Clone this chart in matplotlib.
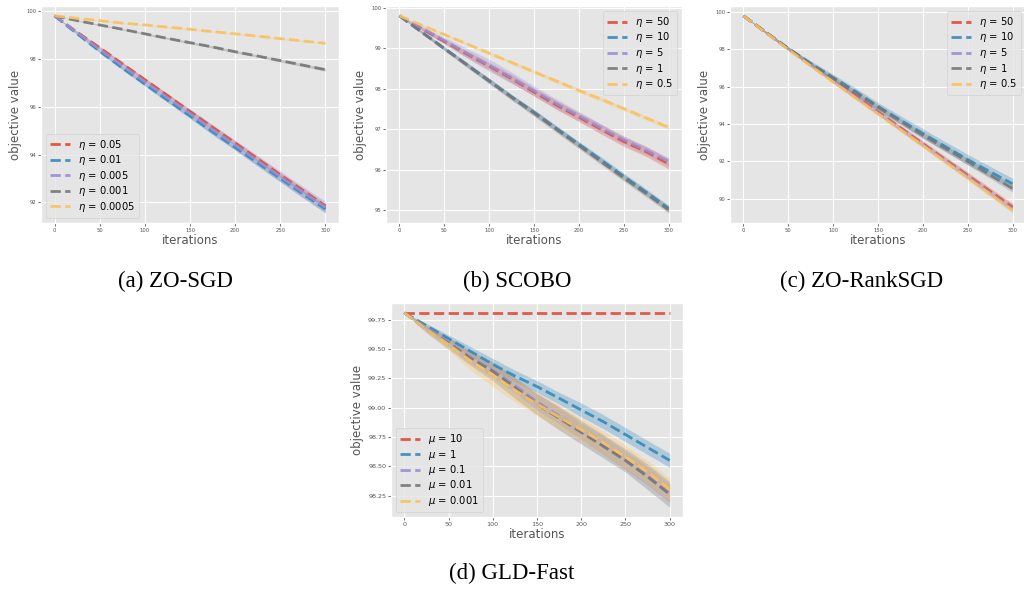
import numpy as np
import matplotlib.pyplot as plt

plt.style.use('ggplot')

iters = np.arange(0, 301, 25)
colors = ['#E24A33', '#348ABD', '#988ED5', '#777777', '#FBC15E']

# (a) ZO-SGD
sgd_labels = [r'$\eta$ = 0.05', r'$\eta$ = 0.01', r'$\eta$ = 0.005', r'$\eta$ = 0.001', r'$\eta$ = 0.0005']
sgd_means = [
    [99.8, 99.12, 98.47, 97.8, 97.13, 96.47, 95.8, 95.14, 94.48, 93.82, 93.15, 92.5, 91.85],
    [99.8, 99.05, 98.32, 97.62, 96.95, 96.28, 95.62, 94.95, 94.3, 93.65, 93.0, 92.35, 91.72],
    [99.8, 99.1, 98.4, 97.72, 97.05, 96.38, 95.72, 95.05, 94.4, 93.74, 93.08, 92.43, 91.8],
    [99.8, 99.6, 99.42, 99.24, 99.05, 98.86, 98.68, 98.5, 98.3, 98.12, 97.93, 97.74, 97.55],
    [99.8, 99.7, 99.6, 99.5, 99.42, 99.33, 99.24, 99.14, 99.05, 98.95, 98.85, 98.75, 98.65],
]
sgd_bands = [
    [0, 0.03, 0.05, 0.06, 0.07, 0.08, 0.08, 0.09, 0.09, 0.1, 0.1, 0.1, 0.1],
    [0, 0.04, 0.06, 0.08, 0.09, 0.1, 0.11, 0.12, 0.12, 0.13, 0.14, 0.15, 0.15],
    [0, 0.06, 0.1, 0.13, 0.15, 0.17, 0.19, 0.2, 0.21, 0.22, 0.23, 0.24, 0.25],
    [0, 0.02, 0.03, 0.03, 0.04, 0.04, 0.05, 0.05, 0.05, 0.05, 0.06, 0.06, 0.06],
    [0, 0.01, 0.02, 0.02, 0.02, 0.03, 0.03, 0.03, 0.03, 0.03, 0.03, 0.03, 0.03],
]

# (b) SCOBO
scobo_labels = [r'$\eta$ = 50', r'$\eta$ = 10', r'$\eta$ = 5', r'$\eta$ = 1', r'$\eta$ = 0.5']
scobo_means = [
    [99.8, 99.48, 99.17, 98.86, 98.56, 98.25, 97.92, 97.6, 97.3, 97.0, 96.7, 96.45, 96.15],
    [99.8, 99.4, 99.0, 98.6, 98.2, 97.8, 97.42, 97.02, 96.63, 96.24, 95.84, 95.45, 95.05],
    [99.8, 99.5, 99.19, 98.88, 98.58, 98.27, 97.95, 97.63, 97.33, 97.03, 96.74, 96.48, 96.2],
    [99.8, 99.39, 98.99, 98.59, 98.19, 97.79, 97.4, 97.0, 96.6, 96.2, 95.8, 95.41, 95.01],
    [99.8, 99.57, 99.34, 99.11, 98.88, 98.65, 98.42, 98.19, 97.96, 97.74, 97.51, 97.28, 97.05],
]
scobo_bands = [
    [0, 0.04, 0.06, 0.08, 0.09, 0.1, 0.1, 0.11, 0.11, 0.12, 0.12, 0.12, 0.13],
    [0, 0.03, 0.04, 0.05, 0.06, 0.06, 0.07, 0.07, 0.07, 0.08, 0.08, 0.08, 0.08],
    [0, 0.05, 0.08, 0.12, 0.15, 0.14, 0.12, 0.12, 0.11, 0.1, 0.1, 0.1, 0.1],
    [0, 0.03, 0.05, 0.06, 0.07, 0.07, 0.08, 0.08, 0.08, 0.08, 0.08, 0.08, 0.08],
    [0, 0.02, 0.03, 0.03, 0.04, 0.04, 0.04, 0.05, 0.05, 0.05, 0.05, 0.05, 0.05],
]

# (c) ZO-RankSGD
rank_labels = [r'$\eta$ = 50', r'$\eta$ = 10', r'$\eta$ = 5', r'$\eta$ = 1', r'$\eta$ = 0.5']
rank_means = [
    [99.8, 98.92, 98.05, 97.2, 96.35, 95.5, 94.65, 93.8, 92.95, 92.1, 91.25, 90.4, 89.55],
    [99.8, 98.92, 98.05, 97.25, 96.5, 95.75, 94.95, 94.22, 93.5, 92.8, 92.1, 91.45, 90.8],
    [99.8, 98.9, 98.02, 97.15, 96.3, 95.45, 94.6, 93.75, 92.9, 92.05, 91.2, 90.32, 89.45],
    [99.8, 98.92, 98.04, 97.22, 96.45, 95.68, 94.9, 94.15, 93.4, 92.7, 92.0, 91.28, 90.55],
    [99.8, 98.9, 98.0, 97.12, 96.26, 95.4, 94.55, 93.7, 92.85, 91.98, 91.12, 90.25, 89.38],
]
rank_bands = [
    [0, 0.05, 0.08, 0.1, 0.12, 0.13, 0.14, 0.15, 0.16, 0.17, 0.18, 0.19, 0.2],
    [0, 0.06, 0.1, 0.14, 0.17, 0.19, 0.21, 0.23, 0.25, 0.26, 0.28, 0.29, 0.3],
    [0, 0.05, 0.07, 0.09, 0.1, 0.11, 0.12, 0.13, 0.14, 0.14, 0.15, 0.15, 0.16],
    [0, 0.05, 0.08, 0.1, 0.12, 0.13, 0.14, 0.15, 0.16, 0.17, 0.18, 0.19, 0.2],
    [0, 0.04, 0.06, 0.08, 0.09, 0.1, 0.11, 0.12, 0.13, 0.13, 0.14, 0.15, 0.15],
]

# (d) GLD-Fast
gld_labels = [r'$\mu$ = 10', r'$\mu$ = 1', r'$\mu$ = 0.1', r'$\mu$ = 0.01', r'$\mu$ = 0.001']
gld_means = [
    [99.81] * 13,
    [99.81, 99.7, 99.59, 99.48, 99.37, 99.27, 99.18, 99.08, 98.98, 98.88, 98.77, 98.66, 98.55],
    [99.81, 99.68, 99.56, 99.43, 99.32, 99.19, 99.05, 98.93, 98.8, 98.68, 98.55, 98.42, 98.27],
    [99.81, 99.67, 99.55, 99.42, 99.31, 99.17, 99.03, 98.91, 98.79, 98.67, 98.55, 98.41, 98.26],
    [99.81, 99.67, 99.54, 99.4, 99.28, 99.15, 99.03, 98.92, 98.81, 98.7, 98.58, 98.45, 98.3],
]
gld_bands = [
    [0] * 13,
    [0, 0.02, 0.03, 0.04, 0.05, 0.05, 0.05, 0.05, 0.06, 0.06, 0.06, 0.06, 0.06],
    [0, 0.02, 0.04, 0.05, 0.06, 0.06, 0.07, 0.07, 0.07, 0.08, 0.08, 0.08, 0.08],
    [0, 0.03, 0.05, 0.06, 0.08, 0.09, 0.09, 0.1, 0.1, 0.1, 0.1, 0.11, 0.11],
    [0, 0.03, 0.05, 0.08, 0.1, 0.1, 0.1, 0.1, 0.1, 0.1, 0.1, 0.1, 0.1],
]
gld_yticks = [98.25, 98.5, 98.75, 99.0, 99.25, 99.5, 99.75]

fig = plt.figure(figsize=(10.24, 5.9), dpi=100)
W, H = 1024, 590

def make_axes(x0, x1, y0, y1):
    return fig.add_axes([x0 / W, 1 - y1 / H, (x1 - x0) / W, (y1 - y0) / H])

panels = [
    (make_axes(41, 339, 6, 223), sgd_labels, sgd_means, sgd_bands, 'lower left', 3.8),
    (make_axes(386, 682, 6, 223), scobo_labels, scobo_means, scobo_bands, 'upper right', 3.8),
    (make_axes(730, 1026, 6, 223), rank_labels, rank_means, rank_bands, 'upper right', 3.8),
    (make_axes(391, 683, 303, 517), gld_labels, gld_means, gld_bands, 'lower left', 4.6),
]

for ax, labels, means, bands, loc, tsize in panels:
    for i in range(len(labels)):
        m = np.array(means[i])
        b = np.array(bands[i])
        ax.fill_between(iters, m - b, m + b, color=colors[i], alpha=0.3, linewidth=0)
        ax.plot(iters, m, '--', color=colors[i], lw=2, alpha=0.9, label=labels[i])
    ax.set_xticks([0, 50, 100, 150, 200, 250, 300])
    ax.tick_params(labelsize=tsize, length=2, pad=1.5, width=0.6)
    ax.set_xlabel('iterations', fontsize=8.5, labelpad=1)
    ax.set_ylabel('objective value', fontsize=8.5, labelpad=3)
    ax.legend(loc=loc, fontsize=7.2, labelspacing=0.15, borderpad=0.4)

ax_d = panels[3][0]
ax_d.set_yticks(gld_yticks)
ax_d.set_yticklabels(['%.2f' % v for v in gld_yticks])

fig.text(175 / W, 1 - 281 / H, '(a) ZO-SGD', family='Liberation Serif', fontsize=16.5, ha='center', va='center')
fig.text(517 / W, 1 - 281 / H, '(b) SCOBO', family='Liberation Serif', fontsize=16.5, ha='center', va='center')
fig.text(862 / W, 1 - 281 / H, '(c) ZO-RankSGD', family='Liberation Serif', fontsize=16.5, ha='center', va='center')
fig.text(512 / W, 1 - 573 / H, '(d) GLD-Fast', family='Liberation Serif', fontsize=16.5, ha='center', va='center')

fig.savefig('out.png', dpi=100)
